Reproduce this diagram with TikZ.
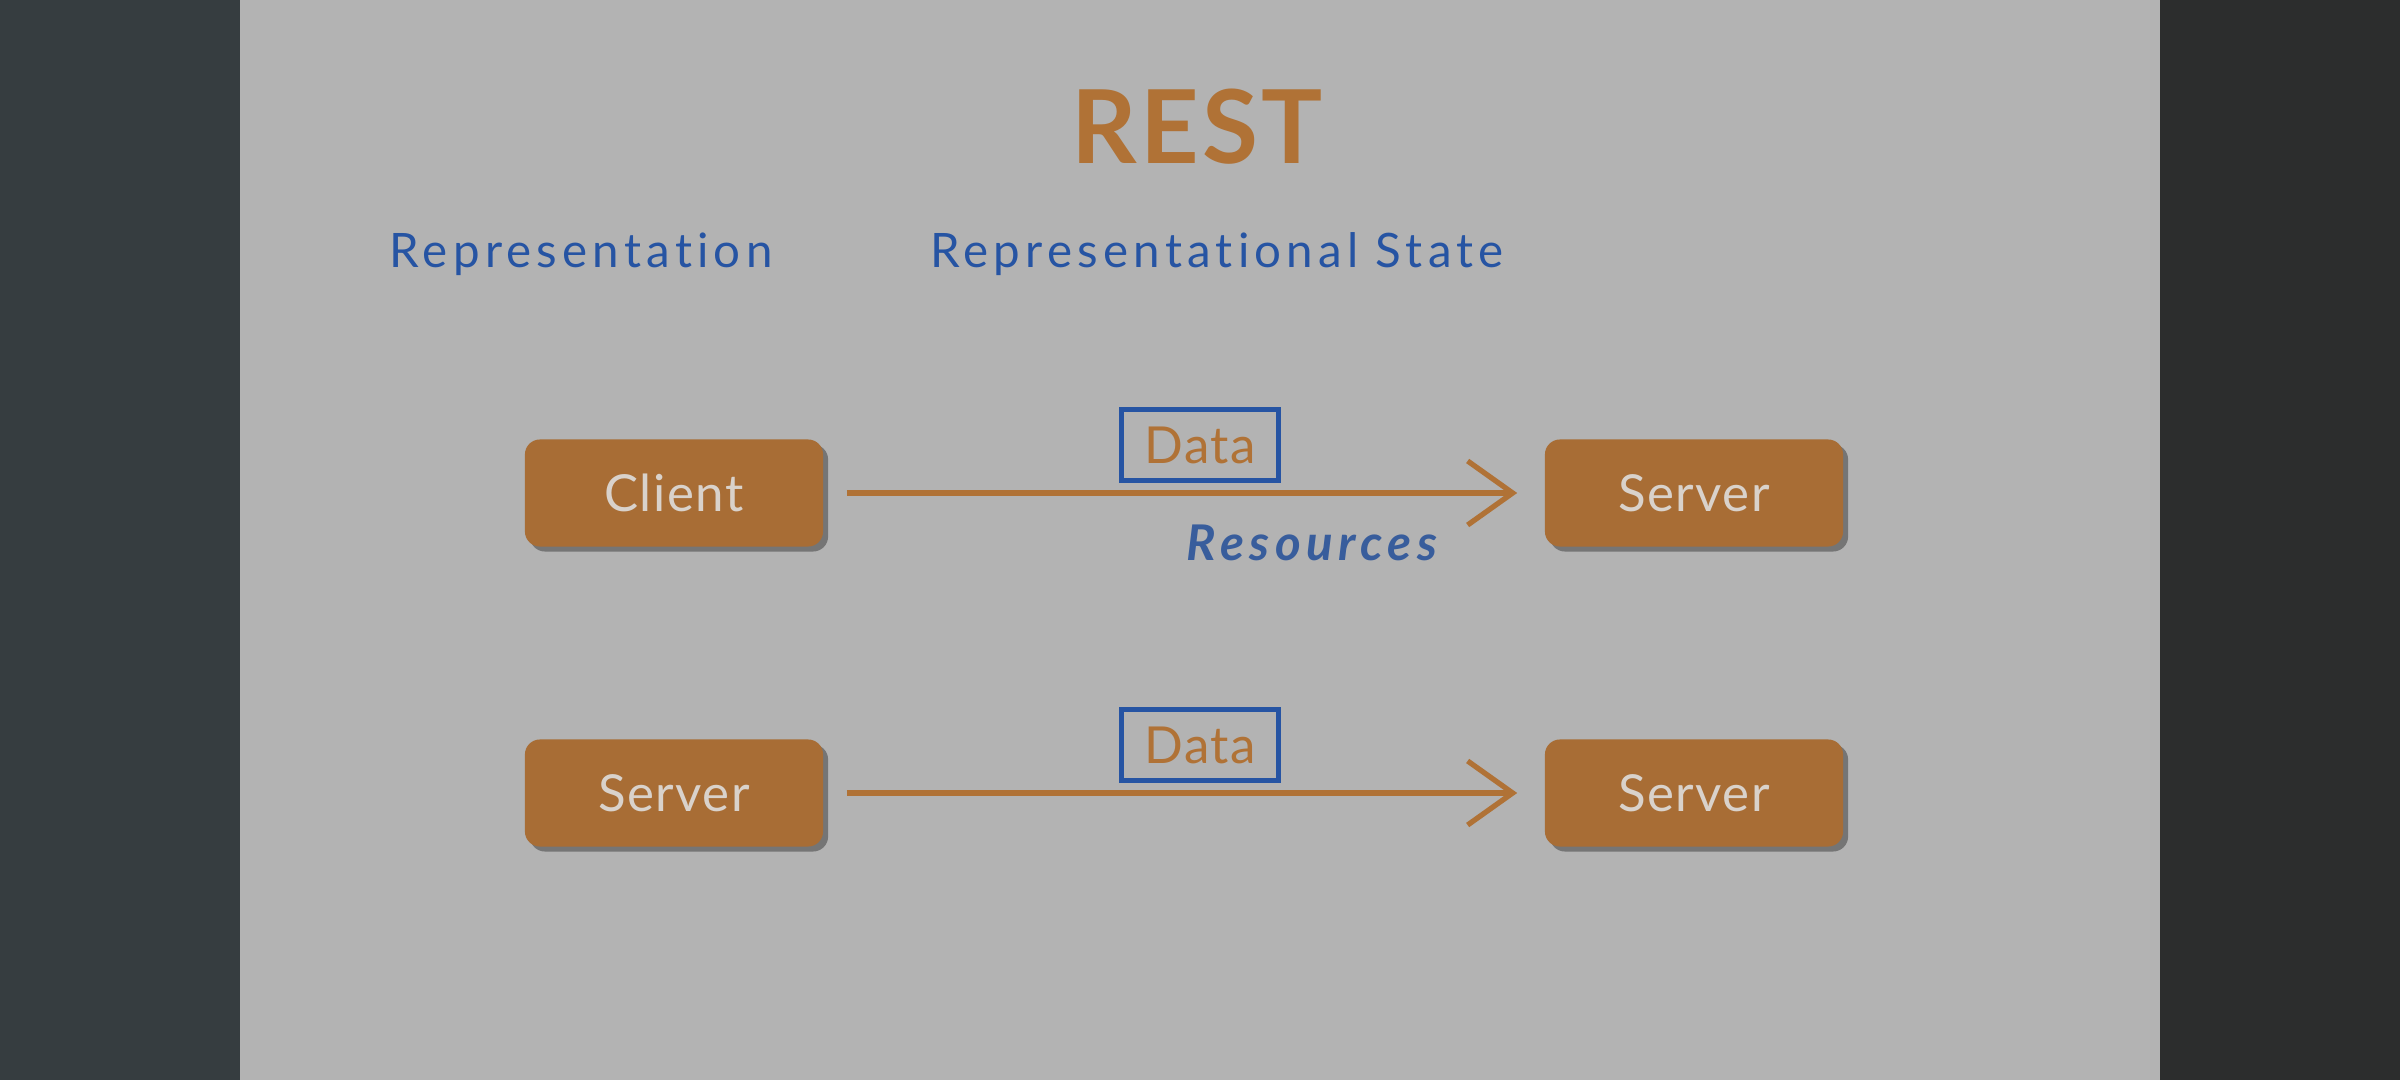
\documentclass[tikz,border=0pt]{standalone}
\usepackage{fontspec}
\setmainfont{Lato}[Ligatures=NoCommon]
\newfontfamily\wideheads{Lato}[LetterSpace=11,Ligatures=NoCommon]
\newfontfamily\widebox{Lato}[LetterSpace=3,Ligatures=NoCommon]
\newfontfamily\widetitle{Lato}[LetterSpace=3,Ligatures=NoCommon]
\usetikzlibrary{arrows.meta,shadows}

\definecolor{slidegray}{HTML}{B3B3B3}
\definecolor{leftdark}{HTML}{363D40}
\definecolor{rightdark}{HTML}{2C2D2D}
\definecolor{restorange}{HTML}{B07236}
\definecolor{boxorange}{HTML}{A86D35}
\definecolor{boxtext}{HTML}{D9D2CB}
\definecolor{restblue}{HTML}{2654A3}

\begin{document}
\begin{tikzpicture}[
            x=0.01cm, y=-0.01cm,
            every node/.style={inner sep=0pt},
            hostbox/.style={rectangle,rounded corners=0.15cm,fill=boxorange,text=boxtext,
                minimum width=2.98cm,minimum height=1.07cm,font=\widebox\fontsize{14.5}{16}\selectfont,
                drop shadow={shadow xshift=0.05cm,shadow yshift=-0.05cm,fill=black!70,opacity=0.6}},
            databox/.style={rectangle,draw=restblue,line width=1.5pt,text=restorange,
                minimum width=1.57cm,minimum height=0.71cm,font=\widebox\fontsize{14.5}{16}\selectfont},
            heading/.style={text=restblue,font=\wideheads\fontsize{13.5}{15}\selectfont},
            transfer/.style={draw=restorange,line width=1.5pt,
                -{Straight Barb[length=0.45cm,width=0.64cm,line width=1.5pt]},
                shorten <=0.23cm,shorten >=0.27cm}
        ]
        % background
        \fill[leftdark] (0,0) rectangle (240,1080);
        \fill[rightdark] (2160,0) rectangle (2400,1080);
        \fill[slidegray] (240,0) rectangle (2160,1080);
        \useasboundingbox (0,0) rectangle (2400,1080);

        % title and headings
        \node[text=restorange,font=\widetitle\fontsize{29}{34}\bfseries] (title) at (1197,127) {REST};
        \node[heading] (rep) at (581,254) {Representation};
        \node[heading] (repstate) at (1217,254) {Representational State};

        % first row
        \node[hostbox] (client) at (674,493) {Client};
        \node[hostbox] (serverA) at (1694,493) {Server};
        \node[databox] (dataA) at (1200,445) {Data};
        \draw[transfer] (client) -- (serverA);
        \node[text=restblue!80!gray,font=\wideheads\fontsize{14}{15}\bfseries\itshape] (res) at (1312,543) {Resources};

        % second row
        \node[hostbox] (serverB) at (674,793) {Server};
        \node[hostbox] (serverC) at (1694,793) {Server};
        \node[databox] (dataB) at (1200,745) {Data};
        \draw[transfer] (serverB) -- (serverC);
    \end{tikzpicture}
\end{document}
